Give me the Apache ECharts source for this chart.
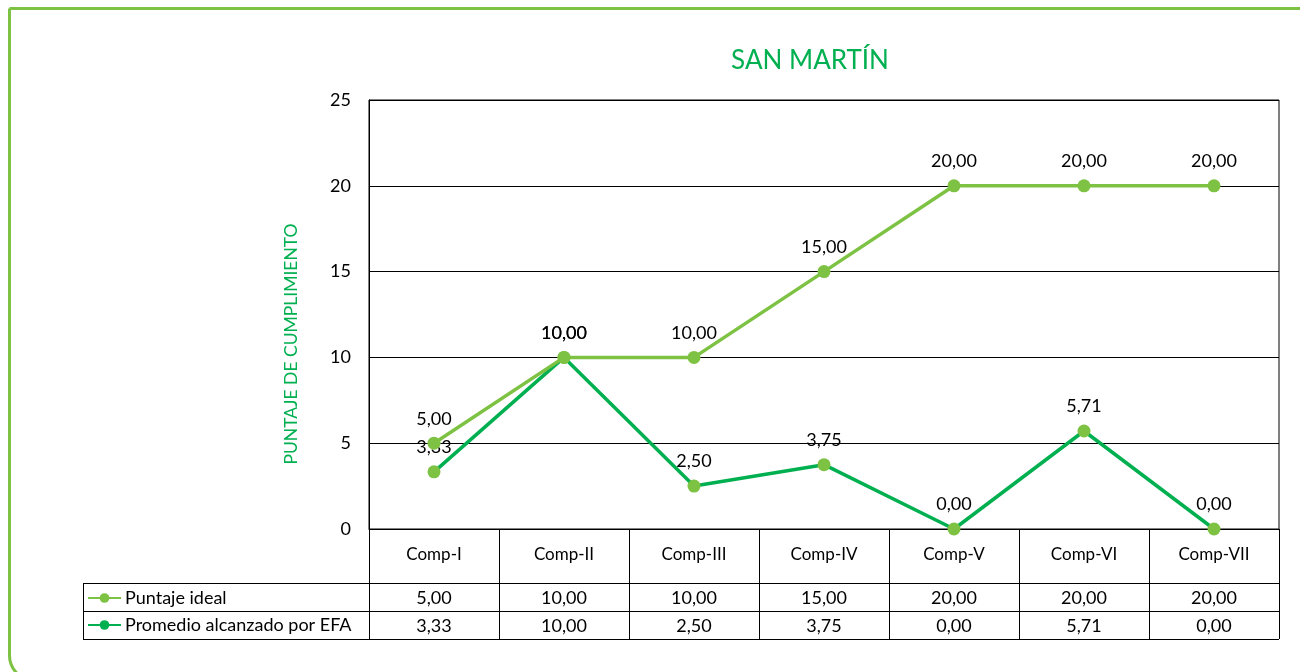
<!DOCTYPE html>
<html>
<head>
<meta charset="utf-8">
<script src="https://cdn.jsdelivr.net/npm/echarts@6/dist/echarts.min.js"></script>
<style>
html,body{margin:0;padding:0;background:#fff;}
#chart{width:1300px;height:672px;}
</style>
</head>
<body>
<div id="chart"></div>
<script>
var categories = ['Comp-I','Comp-II','Comp-III','Comp-IV','Comp-V','Comp-VI','Comp-VII'];
var seriesNames = ['Puntaje ideal','Promedio alcanzado por EFA'];
var puntajeIdeal = [5.00, 10.00, 10.00, 15.00, 20.00, 20.00, 20.00];
var promedioEFA = [3.33, 10.00, 2.50, 3.75, 0.00, 5.71, 0.00];
var yTicks = [0, 5, 10, 15, 20, 25];
var yAxisTitle = 'PUNTAJE DE CUMPLIMIENTO';
var chartTitle = 'SAN MARTÍN';

var FONT = 'Lato';
var LIGHT = '#7dc242';
var DARK = '#00b050';

function fmt(v){ return v.toFixed(2).replace('.', ','); }

var G = {left:369, top:100, width:910, height:429};
var tableLeft = 83;
var rowTop = [583, 611, 639];

var chart = echarts.init(document.getElementById('chart'));

var graphics = [
  {type:'rect', shape:{x:9.5, y:8.5, width:1400, height:672, r:[0,0,0,25]},
   style:{fill:'none', stroke:LIGHT, lineWidth:3}, silent:true, z:0},
  {type:'text', x:291, y:344, rotation:Math.PI/2,
   style:{text:yAxisTitle, fill:DARK, font:'17.5px ' + FONT, align:'center', verticalAlign:'middle'}, silent:true}
];
rowTop.forEach(function(y){
  graphics.push({type:'line', shape:{x1:tableLeft, y1:y+0.5, x2:G.left+G.width, y2:y+0.5},
    style:{stroke:'#000', lineWidth:1}, silent:true});
});
graphics.push({type:'line', shape:{x1:tableLeft+0.5, y1:rowTop[0], x2:tableLeft+0.5, y2:rowTop[2]},
  style:{stroke:'#000', lineWidth:1}, silent:true});

var labelFmt = function(p){ return fmt(p.value); };

chart.setOption({
  animation:false,
  title:{text:chartTitle, left:805, top:43, textAlign:'center',
    textStyle:{color:DARK, fontFamily:FONT, fontSize:26, fontWeight:'normal'}},
  grid:{left:G.left, top:G.top, width:G.width, height:G.height, show:true, borderColor:'#000', borderWidth:1},
  legend:{
    orient:'vertical', left:87, top:589, padding:0, itemGap:9, itemWidth:33, itemHeight:12,
    textStyle:{fontFamily:FONT, fontSize:18, color:'#000', padding:[0,0,0,-1]},
    data:[{name:seriesNames[0], itemStyle:{color:LIGHT}},
          {name:seriesNames[1], itemStyle:{color:DARK}}]
  },
  xAxis:[
    {type:'category', data:categories, boundaryGap:true,
     axisLine:{show:true, lineStyle:{color:'#000', width:1}},
     axisTick:{show:true, interval:0, length:110, lineStyle:{color:'#000', width:1}},
     axisLabel:{interval:0, margin:17, color:'#000', fontFamily:FONT, fontSize:17},
     splitLine:{show:false}},
    {type:'category', data:puntajeIdeal.map(fmt), position:'bottom', offset:54, gridIndex:0,
     axisLine:{show:false}, axisTick:{show:false},
     axisLabel:{interval:0, margin:6, color:'#000', fontFamily:FONT, fontSize:18}},
    {type:'category', data:promedioEFA.map(fmt), position:'bottom', offset:82, gridIndex:0,
     axisLine:{show:false}, axisTick:{show:false},
     axisLabel:{interval:0, margin:6, color:'#000', fontFamily:FONT, fontSize:18}}
  ],
  yAxis:{type:'value', min:yTicks[0], max:yTicks[yTicks.length-1], interval:5,
    axisLine:{show:true, lineStyle:{color:'#000'}},
    axisTick:{show:false},
    axisLabel:{color:'#000', fontFamily:FONT, fontSize:18, margin:18},
    splitLine:{show:true, lineStyle:{color:'#000', width:1}}},
  series:[
    {name:seriesNames[0], type:'line', data:puntajeIdeal, symbol:'circle', symbolSize:13,
     lineStyle:{color:LIGHT, width:3.5}, itemStyle:{color:LIGHT},
     label:{show:true, position:'top', distance:9, formatter:labelFmt,
       color:'#000', fontFamily:FONT, fontSize:18}, z:3},
    {name:seriesNames[1], type:'line', data:promedioEFA, symbol:'circle', symbolSize:13,
     lineStyle:{color:DARK, width:3.5}, itemStyle:{color:LIGHT},
     label:{show:true, position:'top', distance:9, formatter:labelFmt,
       color:'#000', fontFamily:FONT, fontSize:18}, z:2}
  ],
  graphic:graphics
});
</script>
</body>
</html>
